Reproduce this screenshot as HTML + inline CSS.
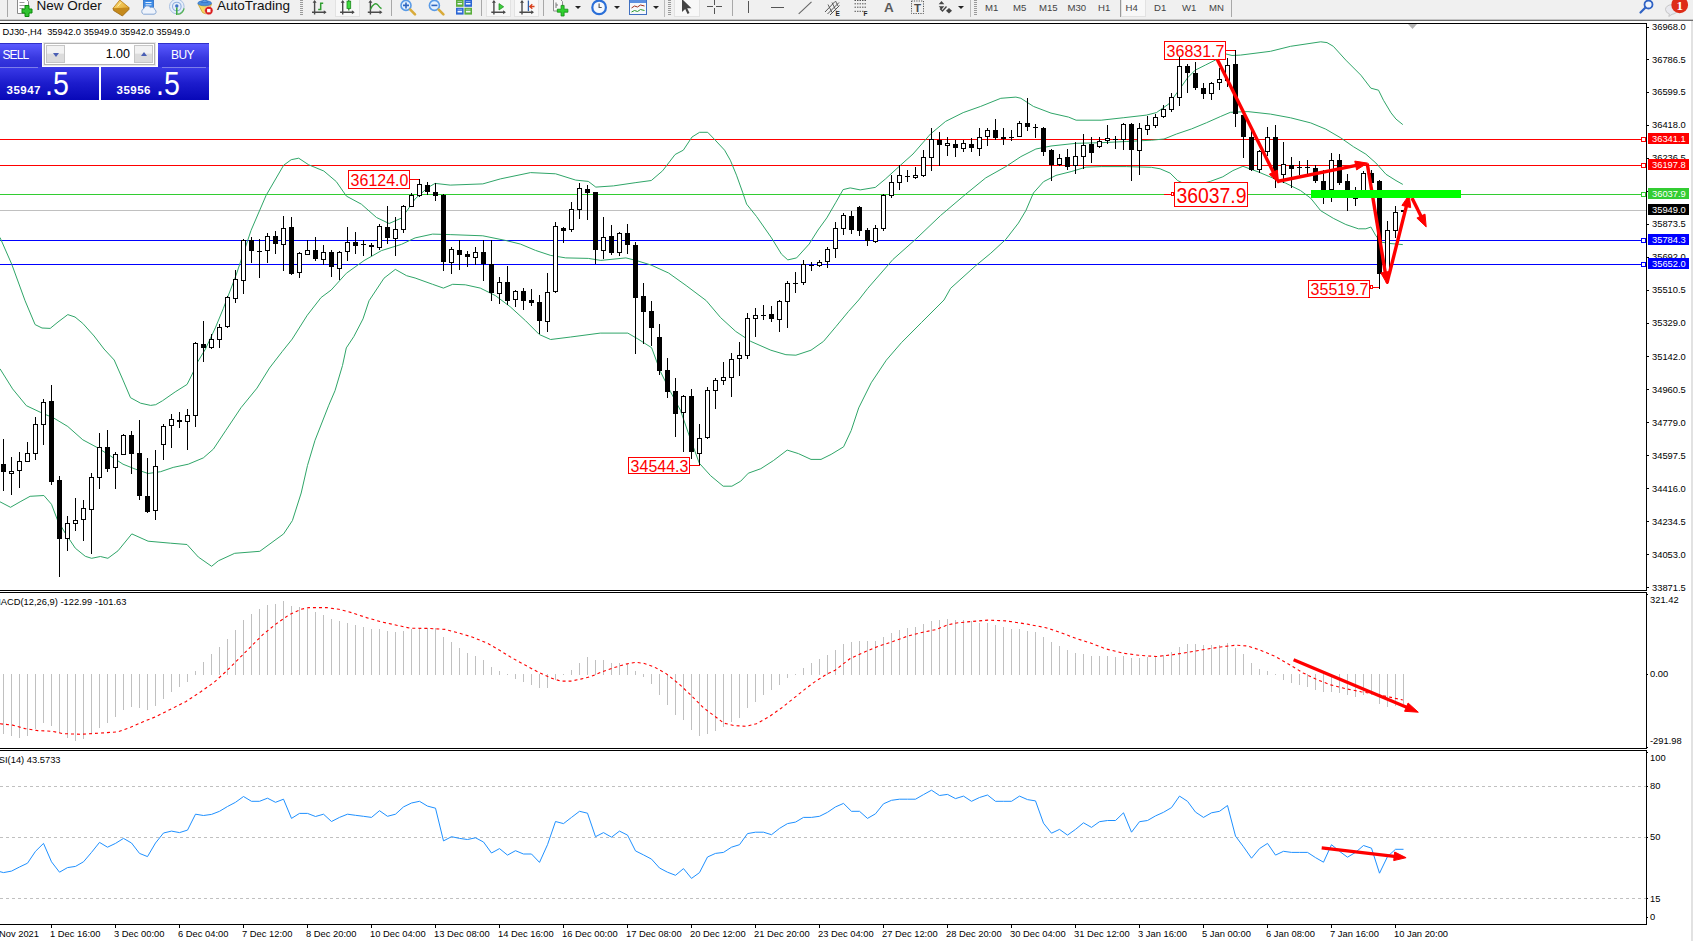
<!DOCTYPE html>
<html><head><meta charset="utf-8"><title>DJ30-,H4</title>
<style>
html,body{margin:0;padding:0;background:#fff}
body{width:1693px;height:941px;overflow:hidden;position:relative;font-family:"Liberation Sans",sans-serif}
#tb{position:absolute;left:0;top:0;width:1693px;height:19px;background:#f0f0f0;border-bottom:1px solid #c4c4c4;overflow:hidden}
#tbl{position:absolute;left:0;top:20px;width:1693px;height:1px;background:#6e6e6e}
#tb .ic{position:absolute;overflow:visible;margin-top:2.5px}
#tb .vs{position:absolute;width:1px;background:#a8a8a8}
#tb .vl{position:absolute}
#tb .grip{position:absolute;top:0;width:3px;height:16px;background:repeating-linear-gradient(#9a9a9a 0 1px,transparent 1px 2px)}
#tb .sel{position:absolute;top:-4px;height:21px;background:#f8f8f8;border:1px solid #e2e2e2;box-sizing:border-box}
#tb .dd{position:absolute;top:6px;width:0;height:0;border:3px solid transparent;border-top:3.500px solid #222}
#tb span{position:absolute;white-space:nowrap}
.t13{font-size:13.5px;color:#111;line-height:20px;margin-top:2px}
.t10{font-size:9.6px;color:#444;line-height:12px;top:1.8px}
#tp{position:absolute;left:0;top:43px;width:209px;height:57px}
#tp .b{position:absolute;z-index:2;background:linear-gradient(#5a5aff,#3838e0 60%,#2c2cd6);box-sizing:border-box;border-top:1px solid #3030c8}
#tp .b span{position:absolute;color:#fff;font-size:12px;line-height:14px;letter-spacing:-.9px}
#tp .b i{position:absolute;height:1px;background:#7d7dea}
#tp .vol{position:absolute;left:44px;top:0;width:111px;height:22px;background:#fff;border:1px solid #b4b4b4;box-sizing:border-box;box-shadow:0 0 0 1px #e8e8e8}
#tp .sb{position:absolute;top:1px;width:19px;height:18px;background:linear-gradient(#f2f2f2 0 45%,#dcdcdc 50% 100%);border:1px solid #c6c6c6;box-sizing:border-box}
#tp .sb em{position:absolute;left:5.500px;width:0;height:0;border:3.500px solid transparent}
#tp .dn{top:7px;border-top:4px solid #4a5fb4 !important}
#tp .up{top:3px;border-bottom:4px solid #4a5fb4 !important}
#tp .v{position:absolute;right:24px;top:3px;font-size:12.500px;color:#000;line-height:15px}
#tp .p{position:absolute;top:24px;height:32.5px;background:linear-gradient(#3a3ae8,#1c1ccc 50%,#0808b8)}
#tp .p span{position:absolute;color:#fff;white-space:nowrap}
#tp .p .s{font-size:11.5px;font-weight:bold;bottom:3.5px;line-height:11px;letter-spacing:.5px}
#tp .p .g{font-size:34px;bottom:4.5px;line-height:24px;transform:scaleX(.84);transform-origin:0 100%}
</style></head><body>
<div id="tb">
 <div class="vs" style="left:7px;top:0;height:17px"></div>
 <!-- new order icon -->
 <svg class="ic" style="left:16px;top:-4.2px" width="18" height="22" viewBox="0 0 18 22">
  <path d="M1.5 0.5h8l3 3v12h-11z" fill="#fff" stroke="#8a8a8a"/>
  <path d="M3.5 4.5h5M3.5 7.5h6M3.5 10.5h4" stroke="#9a9a9a" fill="none"/>
  <path d="M8.5 9.5h3v-3.5h4v3.5h3v4h-3v3.5h-4v-3.5h-3z" transform="translate(-2.5,1.5)" fill="#2fc22f" stroke="#0d8a0d"/>
 </svg>
 <span class="t13" style="left:36.5px;top:-6px">New Order</span>
 <!-- book icon -->
 <svg class="ic" style="left:0;top:-2.5px" width="300" height="20" viewBox="0 0 300 20">
  <defs><linearGradient id="gd" x1="0" y1="0" x2="1" y2="1"><stop offset="0" stop-color="#ffe27a"/><stop offset="1" stop-color="#d9971c"/></linearGradient></defs>
  <path d="M113 8.3 L119.8 0 L129 7.6 L122.6 14.6 Z" fill="url(#gd)" stroke="#b87a14" stroke-width=".8"/>
  <path d="M113 8.3 L113.6 10.5 L122.4 16 L129 9.4 L129 7.6" fill="#c58a1c" stroke="#9a650e" stroke-width=".8"/>
  <path d="M117.5 6.5 L121 2.5" stroke="#fff3b8" stroke-width="1"/>
  <!-- monitor + cloud -->
  <rect x="143.5" y="0" width="10" height="8.5" fill="#3d8be6" stroke="#2a6cc4" stroke-width=".8"/>
  <path d="M145.5 2.5h6M145.5 4.8h6" stroke="#e6f1ff" stroke-width="1"/>
  <path d="M143.5 14.2 a3 3 0 0 1 .3-5.6 a3.6 3.6 0 0 1 6.6-1 a3.2 3.2 0 0 1 4.6 2.2 a2.4 2.4 0 0 1 -1 4.4 Z" fill="#eef3fb" stroke="#7c9fd0" stroke-width=".9"/>
  <!-- signal -->
  <circle cx="176.8" cy="6.5" r="7.3" fill="#e6eef9" stroke="#a9c0e2" stroke-width="1"/>
  <circle cx="176.8" cy="6.5" r="4.3" fill="none" stroke="#8eaede" stroke-width="1.1"/>
  <circle cx="176.8" cy="6" r="1.7" fill="#3f74c8"/>
  <path d="M176.8 7.5V15" stroke="#3aa83a" stroke-width="1.5"/>
  <path d="M177.5 14.3 a7.5 7.5 0 0 0 6.6-6" fill="none" stroke="#56b456" stroke-width="1.3"/>
  <!-- autotrading -->
  <path d="M198 4 q7 -3.5 13.5 0 l-3.2 8.5 q-2.6 2.4 -5.8 0 Z" fill="#f6d75c" stroke="#c9a02c" stroke-width=".8"/>
  <ellipse cx="204.7" cy="3.2" rx="6.8" ry="2.6" fill="#4a8fdc" stroke="#2f6fc0" stroke-width=".7"/>
  <path d="M201.5 2.5 q3.2-5.5 6.4 0 Z" fill="#5b9be4" stroke="#2f6fc0" stroke-width=".7"/>
  <circle cx="208.8" cy="10.6" r="4.2" fill="#d81e1e" stroke="#f4d0d0" stroke-width=".5"/>
  <rect x="207.1" y="8.9" width="3.4" height="3.4" fill="#fff"/>
 </svg>
 <span class="t13" style="left:217px;top:-6px">AutoTrading</span>
 <div class="grip" style="left:300px"></div>
 <!-- bar chart -->
 <div class="sel" style="left:335px;width:25px"></div>
 <div class="sel" style="left:486px;width:25px"></div>
 <div class="sel" style="left:514px;width:25px"></div>
 <svg class="ic" style="left:0;top:-2.5px" width="560" height="20" viewBox="0 0 560 20">
  <path d="M314.6 1.5V14.6M312.0 12.3H325.20000000000005" stroke="#4a4a4a" stroke-width="1.4" fill="none"/><path d="M314.6 0l-2 2.8h4zM326.6 12.3l-2.8-2v4z" fill="#4a4a4a"/>
  <path d="M318.2 9.500H320.700V3.200H323.2" fill="none" stroke="#2f9e2f" stroke-width="1.5"/>
  <path d="M342.7 1.5V14.6M340.09999999999997 12.3H353.3" stroke="#4a4a4a" stroke-width="1.4" fill="none"/><path d="M342.7 0l-2 2.8h4zM354.7 12.3l-2.8-2v4z" fill="#4a4a4a"/>
  <path d="M348.8 0V10.5" stroke="#1e7a1e" stroke-width="1.2"/>
  <rect x="347" y="1.2" width="3.7" height="7.2" fill="#3fdc3f" stroke="#1e8a1e" stroke-width=".8"/>
  <path d="M370.4 1.5V14.6M367.79999999999995 12.3H381.0" stroke="#4a4a4a" stroke-width="1.4" fill="none"/><path d="M370.4 0l-2 2.8h4zM382.4 12.3l-2.8-2v4z" fill="#4a4a4a"/>
  <path d="M370.4 9.6 C373 3.5 376 2.5 378 5.2 S380.5 8 381.5 8.6" fill="none" stroke="#2f9e2f" stroke-width="1.3"/>
  <circle cx="406" cy="5.4" r="5" fill="#e4f0fd" stroke="#5a9be6" stroke-width="1.6"/>
  <path d="M403 5.400h6M406 2.400v6" stroke="#2f66c0" stroke-width="1.6"/>
  <path d="M410.3 9.700l4.7 4.7" stroke="#d9ab3a" stroke-width="2.6" stroke-linecap="round"/>
  <circle cx="434.4" cy="5.4" r="5" fill="#e4f0fd" stroke="#5a9be6" stroke-width="1.6"/>
  <path d="M431.4 5.400h6" stroke="#2f66c0" stroke-width="1.6"/>
  <path d="M438.7 9.700l4.7 4.7" stroke="#d9ab3a" stroke-width="2.6" stroke-linecap="round"/>
  <rect x="456" y="0" width="7.6" height="6.8" fill="#5aae3c"/><rect x="464.4" y="0" width="7.6" height="6.8" fill="#2c66d4"/>
  <rect x="456" y="7.8" width="7.6" height="6.8" fill="#2c66d4"/><rect x="464.4" y="7.8" width="7.6" height="6.8" fill="#5aae3c"/>
  <path d="M457.5 3.800h4.600M465.9 3.800h4.600M457.5 11.600h4.600M465.9 11.600h4.6" stroke="#f4f8ff" stroke-width="1.6"/>
  <path d="M457.5 1.500h4.600M465.9 1.500h4.600M457.5 9.300h4.600M465.9 9.300h4.6" stroke="#dbe8ff" stroke-width=".7" opacity=".7"/>
  <path d="M493.9 1.5V14.6M491.29999999999995 12.3H504.5" stroke="#4a4a4a" stroke-width="1.4" fill="none"/><path d="M493.9 0l-2 2.8h4zM505.9 12.3l-2.8-2v4z" fill="#4a4a4a"/>
  <path d="M499 3.600L503.7 6.800L499 10Z" fill="#3fd03f" stroke="#1e8a1e" stroke-width=".7"/>
  <path d="M522 1.5V14.6M519.4 12.3H532.6" stroke="#4a4a4a" stroke-width="1.4" fill="none"/><path d="M522 0l-2 2.8h4zM534 12.3l-2.8-2v4z" fill="#4a4a4a"/>
  <path d="M528.4 .5V11" stroke="#2f5fa8" stroke-width="1.3"/>
  <path d="M534.5 6.500H530.500M532.3 4.300L529.8 6.500L532.3 8.7" fill="none" stroke="#d8401c" stroke-width="1.3"/>
 </svg>
 <div class="vs" style="left:391px;top:0;height:16px"></div>
 <div class="vs" style="left:481px;top:0;height:16px"></div>
 <div class="vs" style="left:543px;top:0;height:16px"></div>
 <!-- indicators -->
 <svg class="ic" style="left:552px;top:-2.5px" width="20" height="20" viewBox="0 0 20 20"><path d="M1.5 -1h6.500l2.5 2.500v9.500h-9z" fill="#f7f7f7" stroke="#8e8e8e"/><path d="M4 2.500v5.500M4 5h2" stroke="#777" fill="none"/><path d="M5.3 9.200h3.800v-3.800h3v3.800h3.800v3h-3.800v3.800h-3v-3.800h-3.800z" fill="#2fd02f" stroke="#128a12" stroke-width=".8"/></svg>
 <div class="dd" style="left:575px"></div>
 <!-- clock -->
 <svg class="ic" style="left:590px;top:-4px" width="18" height="18" viewBox="0 0 18 18"><circle cx="9.1" cy="8.4" r="6.8" fill="#f4f8fd" stroke="#2a6fd8" stroke-width="2.2"/><path d="M9.1 4.500v4h2.6" fill="none" stroke="#555" stroke-width="1.1"/></svg>
 <div class="dd" style="left:614px"></div>
 <!-- template -->
 <svg class="ic" style="left:629px;top:-4px" width="18" height="17" viewBox="0 0 18 17"><rect x="0.5" y="0.5" width="17" height="15" fill="#f6f8fb" stroke="#3f6fc0"/><rect x="1" y="1" width="16" height="3" fill="#5b8fe0"/><path d="M2.5 9l3-2 3 1 3-2 4 1" fill="none" stroke="#a03020"/><path d="M2.5 13l3-1.5 3 1 3-2 4 1" fill="none" stroke="#2a9a2a"/></svg>
 <div class="dd" style="left:653px"></div>
 <div class="vs" style="left:664px;top:0;height:17px;background:#bbb"></div><div class="grip" style="left:668px"></div>
 <div class="sel" style="left:674px;width:26px"></div>
 <svg class="ic" style="left:681px;top:-5px" width="12" height="18" viewBox="0 0 12 18"><path d="M1 1v13l3.2-3 2.3 5 2-1-2.3-4.8h4.3z" fill="#444"/></svg>
 <svg class="ic" style="left:707px;top:-4px" width="16" height="16" viewBox="0 0 16 16"><path d="M7.5 0v6M7.5 9v6M0 7.5h6M9 7.5h6" stroke="#555"/></svg>
 <div class="vs" style="left:732px;top:0;height:16px"></div>
 <div class="vl" style="left:748px;top:1px;width:1px;height:12px;background:#555"></div>
 <div class="vl" style="left:771px;top:7px;width:13px;height:1px;background:#555"></div>
 <svg class="ic" style="left:780px;top:-2.5px" width="200" height="20" viewBox="0 0 200 20">
  <path d="M18.7 13.800L31.5 1.8" stroke="#666" stroke-width="1.1"/>
  <path d="M45 12L55 1.500M47.5 14L59 2.500M50 15L59.5 5.5" stroke="#555" stroke-width="1" fill="none"/>
  <path d="M48 4.500L52 12.500M52 2.500L56 10.500M55.5 1L58 6" stroke="#555" stroke-width=".9" fill="none"/>
  <text x="55.5" y="15.5" font-size="6.5" font-weight="bold" font-family="Liberation Sans, sans-serif" fill="#222">E</text>
  <path d="M74.5 .5h12.500M74.5 3.800h12.500M74.5 7.200h12.500M74.5 11.300h9" stroke="#555" stroke-dasharray="1.5 1" fill="none"/>
  <text x="83.5" y="15.5" font-size="6.5" font-weight="bold" font-family="Liberation Sans, sans-serif" fill="#222">F</text>
  <rect x="131.5" y="1" width="12" height="12.5" fill="none" stroke="#555" stroke-dasharray="1.2 1.2"/>
  <text x="137.5" y="12" font-size="11.5" font-weight="bold" text-anchor="middle" font-family="Liberation Sans, sans-serif" fill="#4a4a4a">T</text>
  <path d="M161.5 1l2.8 3.200h-5.600zM161.5 9.500l2.8-3.200h-5.600z" fill="#444"/>
  <path d="M160 8.500l2.5 2.5 4-4.5" fill="none" stroke="#444" stroke-width="1.3"/>
  <path d="M169 8l3 2.8-3 2.8-3-2.800z" fill="#444"/>
 </svg>
 <span class="t10" style="left:884px;top:0.5px;font-size:13.5px;color:#5a5a5a;font-weight:bold;line-height:14px">A</span>
 <div class="dd" style="left:958px"></div>
 <div class="vs" style="left:970px;top:0;height:17px;background:#bbb"></div><div class="grip" style="left:974px"></div>
 <div class="sel" style="left:1121px;width:25px"></div>
 <span class="t10" style="left:985px">M1</span><span class="t10" style="left:1013px">M5</span><span class="t10" style="left:1039px">M15</span><span class="t10" style="left:1067.5px">M30</span><span class="t10" style="left:1098px">H1</span><span class="t10" style="left:1125.5px">H4</span><span class="t10" style="left:1154px">D1</span><span class="t10" style="left:1182px">W1</span><span class="t10" style="left:1209px">MN</span>
 <div class="vs" style="left:1231px;top:0;height:17px"></div><div class="vs" style="left:1120px;top:0;height:17px;background:#999"></div>
 <!-- search -->
 <svg class="ic" style="left:1639px;top:-3.8px" width="16" height="16" viewBox="0 0 16 16"><circle cx="9.5" cy="5.5" r="4" fill="#eef4fc" stroke="#2f62c4" stroke-width="1.8"/><path d="M6.5 8.5l-5 5" stroke="#2f62c4" stroke-width="2.2" stroke-linecap="round"/></svg>
 <svg class="ic" style="left:1664px;top:-2.5px" width="28" height="20" viewBox="0 0 28 20"><path d="M1.5 9.500a6 4.8 0 1 1 6.5 4.800l-3.2 2.200l.6-2.600a6 4.8 0 0 1-3.9-4.400z" fill="#e9e9ee" stroke="#bdbdbd" stroke-width=".8"/><circle cx="15.7" cy="4.9" r="8.4" fill="#de2c18"/><text x="15.7" y="9.8" font-size="13" font-weight="bold" text-anchor="middle" fill="#fff" font-family="Liberation Serif, serif">1</text></svg>
</div>
<div id="tbl"></div>
<svg width="1693" height="941" viewBox="0 0 1693 941" style="position:absolute;left:0;top:0" font-family='"Liberation Sans", sans-serif'>
<defs><clipPath id="cm"><rect x="0" y="24" width="1646" height="566"/></clipPath></defs>
<g shape-rendering="crispEdges">
<rect x="0" y="23" width="1647" height="1" fill="#000"/>
<rect x="0" y="590" width="1647" height="1" fill="#000"/>
<rect x="0" y="592" width="1647" height="1" fill="#000"/>
<rect x="0" y="748" width="1647" height="1" fill="#000"/>
<rect x="0" y="750" width="1647" height="1" fill="#000"/>
<rect x="0" y="924" width="1647" height="1" fill="#000"/>
<rect x="1646" y="23" width="1" height="568" fill="#000"/>
<rect x="1646" y="592" width="1" height="157" fill="#000"/>
<rect x="1646" y="750" width="1" height="175" fill="#000"/>
<rect x="1691" y="21" width="2" height="920" fill="#e2e2e2"/>
</g>
<g shape-rendering="crispEdges">
<rect x="0" y="139" width="1646" height="1" fill="#ff0000"/>
<rect x="1641.5" y="137.5" width="4" height="4" fill="#fff" stroke="#ff0000" stroke-width="1"/>
<rect x="0" y="165" width="1646" height="1" fill="#ff0000"/>
<rect x="1641.5" y="163.5" width="4" height="4" fill="#fff" stroke="#ff0000" stroke-width="1"/>
<rect x="0" y="194" width="1646" height="1" fill="#32cd32"/>
<rect x="1641.5" y="192.5" width="4" height="4" fill="#fff" stroke="#32cd32" stroke-width="1"/>
<rect x="0" y="210" width="1646" height="1" fill="#c0c0c0"/>
<rect x="0" y="240" width="1646" height="1" fill="#0000ff"/>
<rect x="1641.5" y="238.5" width="4" height="4" fill="#fff" stroke="#0000ff" stroke-width="1"/>
<rect x="0" y="264" width="1646" height="1" fill="#0000ff"/>
<rect x="1641.5" y="262.5" width="4" height="4" fill="#fff" stroke="#0000ff" stroke-width="1"/>
</g>
<polyline points="0.0,237.5 11.8,264.4 25.1,300.8 35.1,324.6 42.0,328.0 50.2,328.4 58.0,322.0 67.8,314.6 75.0,317.0 82.8,323.4 94.1,336.0 104.0,349.0 114.2,360.0 123.0,380.1 130.5,397.7 140.6,403.2 150.6,405.4 155.7,404.7 162.6,400.7 175.2,391.9 187.1,384.4 192.8,373.0 197.8,361.7 205.4,349.1 215.4,327.7 223.4,308.3 235.9,275.7 251.0,230.5 266.1,195.4 283.6,165.3 291.2,159.7 298.7,158.2 308.7,164.8 323.8,171.0 336.3,181.6 346.4,196.1 361.4,204.2 376.5,217.5 389.1,223.5 401.6,218.0 410.0,206.5 415.1,198.9 427.6,187.7 435.1,183.4 450.2,185.1 482.8,183.9 500.4,178.9 530.5,172.6 555.6,173.8 575.7,180.1 588.3,181.4 595.8,187.1 613.4,185.9 635.9,182.6 651.3,180.5 662.6,170.8 675.1,154.5 683.3,150.2 692.0,137.0 699.6,132.3 707.7,132.3 715.2,140.1 724.6,150.2 730.3,160.2 736.5,175.2 742.8,192.8 746.6,204.1 756.6,216.6 771.5,237.9 781.5,254.2 787.8,259.9 796.6,257.9 809.1,244.1 818.0,230.0 826.8,217.9 835.6,202.8 843.1,189.6 850.2,187.9 860.2,189.9 875.3,187.4 885.3,179.1 900.4,165.3 913.0,154.0 930.5,134.0 945.6,121.4 963.2,112.6 980.7,106.4 1000.8,98.3 1015.9,97.1 1020.9,98.3 1033.4,106.4 1051.0,113.1 1068.6,117.1 1076.1,120.2 1101.2,120.2 1123.8,117.7 1146.4,115.1 1156.4,112.6 1169.0,103.8 1179.0,90.0 1187.7,77.7 1195.2,70.2 1205.3,65.1 1215.3,60.1 1225.3,53.8 1232.0,55.5 1240.4,55.1 1270.5,51.3 1290.6,46.3 1320.7,41.8 1327.0,42.6 1333.3,46.3 1345.8,60.1 1360.9,75.2 1370.9,88.2 1378.5,90.2 1383.5,100.3 1391.0,112.8 1396.0,119.1 1402.8,124.6" fill="none" stroke="#2fa568" stroke-width="1" clip-path="url(#cm)"/>
<polyline points="0.0,368.8 12.6,388.9 26.4,405.7 40.2,412.2 54.0,418.2 67.8,426.5 82.8,439.8 97.9,447.9 110.4,455.9 123.0,464.2 135.5,469.2 148.1,473.5 160.6,471.7 173.2,467.4 188.3,464.2 203.3,457.9 213.4,449.1 225.9,430.3 241.0,407.7 257.0,388.1 269.5,368.0 282.1,351.7 292.2,339.1 307.3,315.2 321.1,297.5 331.2,290.0 346.4,273.2 364.0,260.6 381.5,250.6 401.6,244.3 415.1,237.9 432.6,234.1 450.2,234.6 482.8,235.8 505.4,240.4 520.5,244.1 535.5,250.4 550.6,255.4 565.7,257.9 588.3,258.4 600.8,260.4 625.9,257.9 635.9,260.4 651.0,265.0 668.6,273.0 686.1,285.5 706.2,300.6 720.6,317.6 735.7,331.4 750.8,341.4 770.8,350.2 785.9,354.7 795.9,355.2 811.0,350.2 823.5,341.4 836.1,326.4 848.6,311.3 858.7,300.0 867.8,288.3 892.9,259.5 915.5,239.4 940.6,215.5 965.7,194.2 985.7,177.9 1005.8,166.6 1020.9,156.6 1035.9,149.0 1051.0,146.0 1076.1,143.3 1101.2,142.7 1126.3,141.5 1151.4,140.2 1164.0,139.0 1176.5,134.0 1191.6,128.9 1206.6,122.7 1220.3,116.6 1230.4,112.3 1247.9,111.6 1270.5,114.1 1290.6,117.8 1310.7,122.9 1325.7,129.1 1340.8,137.9 1353.4,146.7 1365.9,154.2 1375.9,163.0 1386.0,174.3 1396.0,180.6 1402.8,184.4" fill="none" stroke="#2fa568" stroke-width="1" clip-path="url(#cm)"/>
<polyline points="0.0,501.8 10.5,507.3 20.1,501.8 30.1,496.3 43.9,495.5 51.5,504.3 57.7,520.6 65.3,533.2 75.3,548.2 85.3,556.3 91.6,558.3 100.4,556.5 107.9,558.3 118.0,550.8 131.8,533.9 148.1,541.2 170.7,543.2 187.0,544.5 198.3,557.0 211.6,566.3 218.4,560.8 234.7,553.3 259.8,551.3 283.6,533.9 292.4,520.6 301.2,493.0 307.5,465.4 315.0,440.3 328.8,405.2 335.0,390.7 342.5,365.5 346.3,347.9 353.8,336.6 363.0,318.9 369.0,300.8 384.0,278.2 395.3,269.4 406.6,275.7 415.1,278.0 432.6,284.3 443.4,288.1 452.7,284.3 465.3,284.8 480.3,288.1 495.4,295.6 510.4,306.9 525.5,320.7 539.3,334.5 550.6,339.5 570.7,337.0 600.2,333.1 627.8,333.1 637.8,338.9 651.6,347.7 660.4,371.5 670.4,391.6 680.5,410.4 690.5,439.3 699.3,463.2 710.6,475.7 723.2,486.2 731.9,486.2 740.7,481.2 748.3,473.2 760.8,468.7 773.4,460.6 787.2,450.1 798.4,453.6 811.0,459.4 821.0,459.4 831.1,454.4 843.6,446.8 851.2,430.5 858.7,407.9 871.2,382.8 886.3,360.2 901.4,342.7 921.4,322.6 944.0,300.0 950.6,288.3 975.7,265.7 990.8,253.2 1005.8,239.4 1018.4,223.1 1025.9,210.5 1033.4,193.0 1043.5,181.7 1056.0,175.4 1071.1,171.6 1086.1,167.1 1101.2,166.6 1126.3,166.6 1151.4,167.3 1160.1,168.8 1170.1,173.1 1177.7,180.6 1185.0,184.0 1200.0,184.0 1210.3,181.4 1222.8,176.8 1232.9,170.6 1242.9,166.3 1258.0,171.8 1273.0,178.1 1285.6,183.1 1300.6,190.6 1310.7,198.2 1320.7,210.7 1333.3,218.3 1345.8,224.5 1358.4,228.8 1365.9,228.8 1370.9,227.0 1375.9,235.8 1381.0,242.1 1390.0,243.5 1402.8,244.6" fill="none" stroke="#2fa568" stroke-width="1" clip-path="url(#cm)"/>
<g shape-rendering="crispEdges" fill="#ff0000">
<rect x="410" y="179" width="10" height="1"/>
<rect x="690" y="465" width="10" height="1"/>
<rect x="1226" y="50" width="10" height="1"/>
<rect x="1164" y="194" width="10" height="1"/>
<rect x="1370" y="287" width="10" height="1"/>
</g>
<rect x="348.5" y="170.5" width="61" height="18" fill="#fff" stroke="#ff0000" stroke-width="1" shape-rendering="crispEdges"/><text transform="translate(379.5,185.9) scale(1,1.05)" font-size="16" fill="#ff0000" text-anchor="middle">36124.0</text>
<rect x="628.5" y="457.5" width="61" height="16" fill="#fff" stroke="#ff0000" stroke-width="1" shape-rendering="crispEdges"/><text transform="translate(659.5,471.9) scale(1,1.05)" font-size="16" fill="#ff0000" text-anchor="middle">34544.3</text>
<rect x="1164.5" y="41.5" width="61" height="18" fill="#fff" stroke="#ff0000" stroke-width="1" shape-rendering="crispEdges"/><text transform="translate(1195.5,56.8) scale(1,1.05)" font-size="16" fill="#ff0000" text-anchor="middle">36831.7</text>
<rect x="1174.5" y="182.5" width="73" height="24" fill="#fff" stroke="#ff0000" stroke-width="1" shape-rendering="crispEdges"/><text transform="translate(1211.5,202.9) scale(1,1.14)" font-size="19.4" fill="#ff0000" text-anchor="middle">36037.9</text>
<rect x="1308.5" y="280.5" width="61" height="17" fill="#fff" stroke="#ff0000" stroke-width="1" shape-rendering="crispEdges"/><text transform="translate(1339.5,295.4) scale(1,1.05)" font-size="16" fill="#ff0000" text-anchor="middle">35519.7</text>
<g shape-rendering="crispEdges" fill="#fff" stroke="#ff0000"><rect x="1171.5" y="192.5" width="2" height="3"/><rect x="1370.5" y="285.5" width="2" height="3"/></g>
<g shape-rendering="crispEdges" clip-path="url(#cm)">
<rect x="3" y="439" width="1" height="52" fill="#000"/>
<rect x="1" y="464" width="5" height="8" fill="#000"/>
<rect x="11" y="457" width="1" height="38" fill="#000"/>
<rect x="9" y="471" width="5" height="3" fill="#000"/>
<rect x="10" y="472" width="3" height="1" fill="#fff"/>
<rect x="19" y="452" width="1" height="36" fill="#000"/>
<rect x="17" y="461" width="5" height="10" fill="#000"/>
<rect x="18" y="462" width="3" height="8" fill="#fff"/>
<rect x="27" y="442" width="1" height="20" fill="#000"/>
<rect x="25" y="453" width="5" height="9" fill="#000"/>
<rect x="26" y="454" width="3" height="7" fill="#fff"/>
<rect x="35" y="417" width="1" height="43" fill="#000"/>
<rect x="33" y="424" width="5" height="30" fill="#000"/>
<rect x="34" y="425" width="3" height="28" fill="#fff"/>
<rect x="43" y="399" width="1" height="46" fill="#000"/>
<rect x="41" y="402" width="5" height="23" fill="#000"/>
<rect x="42" y="403" width="3" height="21" fill="#fff"/>
<rect x="51" y="385" width="1" height="100" fill="#000"/>
<rect x="49" y="401" width="5" height="81" fill="#000"/>
<rect x="59" y="476" width="1" height="101" fill="#000"/>
<rect x="57" y="480" width="5" height="59" fill="#000"/>
<rect x="67" y="516" width="1" height="35" fill="#000"/>
<rect x="65" y="523" width="5" height="16" fill="#000"/>
<rect x="66" y="524" width="3" height="14" fill="#fff"/>
<rect x="75" y="498" width="1" height="33" fill="#000"/>
<rect x="73" y="520" width="5" height="4" fill="#000"/>
<rect x="74" y="521" width="3" height="2" fill="#fff"/>
<rect x="83" y="500" width="1" height="41" fill="#000"/>
<rect x="81" y="508" width="5" height="12" fill="#000"/>
<rect x="82" y="509" width="3" height="10" fill="#fff"/>
<rect x="91" y="473" width="1" height="81" fill="#000"/>
<rect x="89" y="477" width="5" height="33" fill="#000"/>
<rect x="90" y="478" width="3" height="31" fill="#fff"/>
<rect x="99" y="433" width="1" height="56" fill="#000"/>
<rect x="97" y="447" width="5" height="31" fill="#000"/>
<rect x="98" y="448" width="3" height="29" fill="#fff"/>
<rect x="107" y="430" width="1" height="42" fill="#000"/>
<rect x="105" y="447" width="5" height="22" fill="#000"/>
<rect x="115" y="452" width="1" height="37" fill="#000"/>
<rect x="113" y="454" width="5" height="14" fill="#000"/>
<rect x="114" y="455" width="3" height="12" fill="#fff"/>
<rect x="123" y="434" width="1" height="21" fill="#000"/>
<rect x="121" y="435" width="5" height="20" fill="#000"/>
<rect x="122" y="436" width="3" height="18" fill="#fff"/>
<rect x="131" y="431" width="1" height="43" fill="#000"/>
<rect x="129" y="435" width="5" height="19" fill="#000"/>
<rect x="139" y="420" width="1" height="80" fill="#000"/>
<rect x="137" y="453" width="5" height="43" fill="#000"/>
<rect x="147" y="458" width="1" height="55" fill="#000"/>
<rect x="145" y="496" width="5" height="16" fill="#000"/>
<rect x="155" y="450" width="1" height="70" fill="#000"/>
<rect x="153" y="466" width="5" height="45" fill="#000"/>
<rect x="154" y="467" width="3" height="43" fill="#fff"/>
<rect x="163" y="424" width="1" height="36" fill="#000"/>
<rect x="161" y="426" width="5" height="19" fill="#000"/>
<rect x="162" y="427" width="3" height="17" fill="#fff"/>
<rect x="171" y="414" width="1" height="34" fill="#000"/>
<rect x="169" y="419" width="5" height="7" fill="#000"/>
<rect x="170" y="420" width="3" height="5" fill="#fff"/>
<rect x="179" y="412" width="1" height="16" fill="#000"/>
<rect x="177" y="420" width="5" height="2" fill="#000"/>
<rect x="187" y="409" width="1" height="41" fill="#000"/>
<rect x="185" y="415" width="5" height="7" fill="#000"/>
<rect x="186" y="416" width="3" height="5" fill="#fff"/>
<rect x="195" y="342" width="1" height="85" fill="#000"/>
<rect x="193" y="343" width="5" height="73" fill="#000"/>
<rect x="194" y="344" width="3" height="71" fill="#fff"/>
<rect x="203" y="321" width="1" height="41" fill="#000"/>
<rect x="201" y="344" width="5" height="4" fill="#000"/>
<rect x="211" y="334" width="1" height="15" fill="#000"/>
<rect x="209" y="339" width="5" height="9" fill="#000"/>
<rect x="210" y="340" width="3" height="7" fill="#fff"/>
<rect x="219" y="324" width="1" height="24" fill="#000"/>
<rect x="217" y="327" width="5" height="13" fill="#000"/>
<rect x="218" y="328" width="3" height="11" fill="#fff"/>
<rect x="227" y="296" width="1" height="32" fill="#000"/>
<rect x="225" y="297" width="5" height="30" fill="#000"/>
<rect x="226" y="298" width="3" height="28" fill="#fff"/>
<rect x="235" y="270" width="1" height="33" fill="#000"/>
<rect x="233" y="279" width="5" height="20" fill="#000"/>
<rect x="234" y="280" width="3" height="18" fill="#fff"/>
<rect x="243" y="239" width="1" height="55" fill="#000"/>
<rect x="241" y="240" width="5" height="41" fill="#000"/>
<rect x="242" y="241" width="3" height="39" fill="#fff"/>
<rect x="251" y="237" width="1" height="26" fill="#000"/>
<rect x="249" y="240" width="5" height="11" fill="#000"/>
<rect x="259" y="239" width="1" height="39" fill="#000"/>
<rect x="257" y="251" width="5" height="1" fill="#000"/>
<rect x="267" y="233" width="1" height="30" fill="#000"/>
<rect x="265" y="236" width="5" height="15" fill="#000"/>
<rect x="266" y="237" width="3" height="13" fill="#fff"/>
<rect x="275" y="231" width="1" height="23" fill="#000"/>
<rect x="273" y="236" width="5" height="8" fill="#000"/>
<rect x="283" y="216" width="1" height="55" fill="#000"/>
<rect x="281" y="228" width="5" height="17" fill="#000"/>
<rect x="282" y="229" width="3" height="15" fill="#fff"/>
<rect x="291" y="217" width="1" height="58" fill="#000"/>
<rect x="289" y="227" width="5" height="47" fill="#000"/>
<rect x="299" y="252" width="1" height="26" fill="#000"/>
<rect x="297" y="253" width="5" height="20" fill="#000"/>
<rect x="298" y="254" width="3" height="18" fill="#fff"/>
<rect x="307" y="240" width="1" height="15" fill="#000"/>
<rect x="305" y="250" width="5" height="5" fill="#000"/>
<rect x="306" y="251" width="3" height="3" fill="#fff"/>
<rect x="315" y="237" width="1" height="24" fill="#000"/>
<rect x="313" y="250" width="5" height="9" fill="#000"/>
<rect x="323" y="245" width="1" height="20" fill="#000"/>
<rect x="321" y="252" width="5" height="8" fill="#000"/>
<rect x="322" y="253" width="3" height="6" fill="#fff"/>
<rect x="331" y="250" width="1" height="27" fill="#000"/>
<rect x="329" y="252" width="5" height="15" fill="#000"/>
<rect x="339" y="251" width="1" height="29" fill="#000"/>
<rect x="337" y="252" width="5" height="17" fill="#000"/>
<rect x="338" y="253" width="3" height="15" fill="#fff"/>
<rect x="347" y="227" width="1" height="34" fill="#000"/>
<rect x="345" y="242" width="5" height="10" fill="#000"/>
<rect x="346" y="243" width="3" height="8" fill="#fff"/>
<rect x="355" y="232" width="1" height="22" fill="#000"/>
<rect x="353" y="242" width="5" height="4" fill="#000"/>
<rect x="363" y="240" width="1" height="16" fill="#000"/>
<rect x="361" y="244" width="5" height="1" fill="#000"/>
<rect x="371" y="243" width="1" height="13" fill="#000"/>
<rect x="369" y="245" width="5" height="2" fill="#000"/>
<rect x="379" y="224" width="1" height="26" fill="#000"/>
<rect x="377" y="226" width="5" height="22" fill="#000"/>
<rect x="378" y="227" width="3" height="20" fill="#fff"/>
<rect x="387" y="206" width="1" height="38" fill="#000"/>
<rect x="385" y="227" width="5" height="11" fill="#000"/>
<rect x="395" y="217" width="1" height="39" fill="#000"/>
<rect x="393" y="229" width="5" height="10" fill="#000"/>
<rect x="394" y="230" width="3" height="8" fill="#fff"/>
<rect x="403" y="205" width="1" height="28" fill="#000"/>
<rect x="401" y="206" width="5" height="24" fill="#000"/>
<rect x="402" y="207" width="3" height="22" fill="#fff"/>
<rect x="411" y="193" width="1" height="14" fill="#000"/>
<rect x="409" y="195" width="5" height="12" fill="#000"/>
<rect x="410" y="196" width="3" height="10" fill="#fff"/>
<rect x="419" y="179" width="1" height="18" fill="#000"/>
<rect x="417" y="184" width="5" height="12" fill="#000"/>
<rect x="418" y="185" width="3" height="10" fill="#fff"/>
<rect x="427" y="182" width="1" height="13" fill="#000"/>
<rect x="425" y="185" width="5" height="7" fill="#000"/>
<rect x="435" y="183" width="1" height="18" fill="#000"/>
<rect x="433" y="192" width="5" height="4" fill="#000"/>
<rect x="443" y="194" width="1" height="77" fill="#000"/>
<rect x="441" y="195" width="5" height="67" fill="#000"/>
<rect x="451" y="247" width="1" height="27" fill="#000"/>
<rect x="449" y="249" width="5" height="14" fill="#000"/>
<rect x="450" y="250" width="3" height="12" fill="#fff"/>
<rect x="459" y="240" width="1" height="30" fill="#000"/>
<rect x="457" y="250" width="5" height="5" fill="#000"/>
<rect x="467" y="251" width="1" height="16" fill="#000"/>
<rect x="465" y="254" width="5" height="3" fill="#000"/>
<rect x="475" y="247" width="1" height="18" fill="#000"/>
<rect x="473" y="252" width="5" height="6" fill="#000"/>
<rect x="474" y="253" width="3" height="4" fill="#fff"/>
<rect x="483" y="240" width="1" height="41" fill="#000"/>
<rect x="481" y="252" width="5" height="12" fill="#000"/>
<rect x="491" y="240" width="1" height="61" fill="#000"/>
<rect x="489" y="264" width="5" height="29" fill="#000"/>
<rect x="499" y="277" width="1" height="27" fill="#000"/>
<rect x="497" y="282" width="5" height="12" fill="#000"/>
<rect x="498" y="283" width="3" height="10" fill="#fff"/>
<rect x="507" y="266" width="1" height="39" fill="#000"/>
<rect x="505" y="282" width="5" height="19" fill="#000"/>
<rect x="515" y="290" width="1" height="17" fill="#000"/>
<rect x="513" y="291" width="5" height="9" fill="#000"/>
<rect x="514" y="292" width="3" height="7" fill="#fff"/>
<rect x="523" y="288" width="1" height="22" fill="#000"/>
<rect x="521" y="291" width="5" height="10" fill="#000"/>
<rect x="531" y="289" width="1" height="17" fill="#000"/>
<rect x="529" y="300" width="5" height="3" fill="#000"/>
<rect x="539" y="295" width="1" height="39" fill="#000"/>
<rect x="537" y="302" width="5" height="19" fill="#000"/>
<rect x="547" y="273" width="1" height="59" fill="#000"/>
<rect x="545" y="292" width="5" height="30" fill="#000"/>
<rect x="546" y="293" width="3" height="28" fill="#fff"/>
<rect x="555" y="222" width="1" height="71" fill="#000"/>
<rect x="553" y="226" width="5" height="66" fill="#000"/>
<rect x="554" y="227" width="3" height="64" fill="#fff"/>
<rect x="563" y="227" width="1" height="16" fill="#000"/>
<rect x="561" y="228" width="5" height="3" fill="#000"/>
<rect x="571" y="202" width="1" height="30" fill="#000"/>
<rect x="569" y="209" width="5" height="21" fill="#000"/>
<rect x="570" y="210" width="3" height="19" fill="#fff"/>
<rect x="579" y="183" width="1" height="36" fill="#000"/>
<rect x="577" y="188" width="5" height="22" fill="#000"/>
<rect x="578" y="189" width="3" height="20" fill="#fff"/>
<rect x="587" y="185" width="1" height="35" fill="#000"/>
<rect x="585" y="189" width="5" height="4" fill="#000"/>
<rect x="595" y="192" width="1" height="72" fill="#000"/>
<rect x="593" y="192" width="5" height="58" fill="#000"/>
<rect x="603" y="217" width="1" height="42" fill="#000"/>
<rect x="601" y="237" width="5" height="14" fill="#000"/>
<rect x="602" y="238" width="3" height="12" fill="#fff"/>
<rect x="611" y="225" width="1" height="30" fill="#000"/>
<rect x="609" y="236" width="5" height="17" fill="#000"/>
<rect x="619" y="232" width="1" height="24" fill="#000"/>
<rect x="617" y="233" width="5" height="20" fill="#000"/>
<rect x="618" y="234" width="3" height="18" fill="#fff"/>
<rect x="627" y="224" width="1" height="30" fill="#000"/>
<rect x="625" y="233" width="5" height="12" fill="#000"/>
<rect x="635" y="242" width="1" height="112" fill="#000"/>
<rect x="633" y="245" width="5" height="53" fill="#000"/>
<rect x="643" y="283" width="1" height="61" fill="#000"/>
<rect x="641" y="296" width="5" height="16" fill="#000"/>
<rect x="651" y="301" width="1" height="45" fill="#000"/>
<rect x="649" y="311" width="5" height="17" fill="#000"/>
<rect x="659" y="324" width="1" height="51" fill="#000"/>
<rect x="657" y="337" width="5" height="34" fill="#000"/>
<rect x="667" y="358" width="1" height="40" fill="#000"/>
<rect x="665" y="370" width="5" height="22" fill="#000"/>
<rect x="675" y="378" width="1" height="59" fill="#000"/>
<rect x="673" y="391" width="5" height="23" fill="#000"/>
<rect x="683" y="395" width="1" height="57" fill="#000"/>
<rect x="681" y="396" width="5" height="17" fill="#000"/>
<rect x="682" y="397" width="3" height="15" fill="#fff"/>
<rect x="691" y="389" width="1" height="70" fill="#000"/>
<rect x="689" y="396" width="5" height="56" fill="#000"/>
<rect x="699" y="424" width="1" height="41" fill="#000"/>
<rect x="697" y="438" width="5" height="16" fill="#000"/>
<rect x="698" y="439" width="3" height="14" fill="#fff"/>
<rect x="707" y="387" width="1" height="52" fill="#000"/>
<rect x="705" y="390" width="5" height="48" fill="#000"/>
<rect x="706" y="391" width="3" height="46" fill="#fff"/>
<rect x="715" y="378" width="1" height="31" fill="#000"/>
<rect x="713" y="380" width="5" height="11" fill="#000"/>
<rect x="714" y="381" width="3" height="9" fill="#fff"/>
<rect x="723" y="362" width="1" height="23" fill="#000"/>
<rect x="721" y="377" width="5" height="4" fill="#000"/>
<rect x="722" y="378" width="3" height="2" fill="#fff"/>
<rect x="731" y="353" width="1" height="44" fill="#000"/>
<rect x="729" y="359" width="5" height="19" fill="#000"/>
<rect x="730" y="360" width="3" height="17" fill="#fff"/>
<rect x="739" y="342" width="1" height="34" fill="#000"/>
<rect x="737" y="355" width="5" height="4" fill="#000"/>
<rect x="738" y="356" width="3" height="2" fill="#fff"/>
<rect x="747" y="313" width="1" height="46" fill="#000"/>
<rect x="745" y="318" width="5" height="38" fill="#000"/>
<rect x="746" y="319" width="3" height="36" fill="#fff"/>
<rect x="755" y="308" width="1" height="29" fill="#000"/>
<rect x="753" y="315" width="5" height="4" fill="#000"/>
<rect x="754" y="316" width="3" height="2" fill="#fff"/>
<rect x="763" y="305" width="1" height="15" fill="#000"/>
<rect x="761" y="315" width="5" height="1" fill="#000"/>
<rect x="771" y="306" width="1" height="16" fill="#000"/>
<rect x="769" y="314" width="5" height="5" fill="#000"/>
<rect x="779" y="300" width="1" height="32" fill="#000"/>
<rect x="777" y="301" width="5" height="19" fill="#000"/>
<rect x="778" y="302" width="3" height="17" fill="#fff"/>
<rect x="787" y="281" width="1" height="47" fill="#000"/>
<rect x="785" y="283" width="5" height="19" fill="#000"/>
<rect x="786" y="284" width="3" height="17" fill="#fff"/>
<rect x="795" y="272" width="1" height="21" fill="#000"/>
<rect x="793" y="283" width="5" height="1" fill="#000"/>
<rect x="803" y="260" width="1" height="25" fill="#000"/>
<rect x="801" y="264" width="5" height="19" fill="#000"/>
<rect x="802" y="265" width="3" height="17" fill="#fff"/>
<rect x="811" y="262" width="1" height="9" fill="#000"/>
<rect x="809" y="265" width="5" height="1" fill="#000"/>
<rect x="819" y="260" width="1" height="7" fill="#000"/>
<rect x="817" y="262" width="5" height="4" fill="#000"/>
<rect x="818" y="263" width="3" height="2" fill="#fff"/>
<rect x="827" y="247" width="1" height="21" fill="#000"/>
<rect x="825" y="249" width="5" height="13" fill="#000"/>
<rect x="826" y="250" width="3" height="11" fill="#fff"/>
<rect x="835" y="222" width="1" height="36" fill="#000"/>
<rect x="833" y="228" width="5" height="21" fill="#000"/>
<rect x="834" y="229" width="3" height="19" fill="#fff"/>
<rect x="843" y="213" width="1" height="22" fill="#000"/>
<rect x="841" y="215" width="5" height="14" fill="#000"/>
<rect x="842" y="216" width="3" height="12" fill="#fff"/>
<rect x="851" y="211" width="1" height="23" fill="#000"/>
<rect x="849" y="216" width="5" height="14" fill="#000"/>
<rect x="859" y="206" width="1" height="30" fill="#000"/>
<rect x="857" y="207" width="5" height="24" fill="#000"/>
<rect x="867" y="228" width="1" height="18" fill="#000"/>
<rect x="865" y="230" width="5" height="11" fill="#000"/>
<rect x="875" y="225" width="1" height="18" fill="#000"/>
<rect x="873" y="228" width="5" height="14" fill="#000"/>
<rect x="874" y="229" width="3" height="12" fill="#fff"/>
<rect x="883" y="194" width="1" height="37" fill="#000"/>
<rect x="881" y="195" width="5" height="34" fill="#000"/>
<rect x="882" y="196" width="3" height="32" fill="#fff"/>
<rect x="891" y="175" width="1" height="23" fill="#000"/>
<rect x="889" y="182" width="5" height="14" fill="#000"/>
<rect x="890" y="183" width="3" height="12" fill="#fff"/>
<rect x="899" y="165" width="1" height="25" fill="#000"/>
<rect x="897" y="175" width="5" height="8" fill="#000"/>
<rect x="898" y="176" width="3" height="6" fill="#fff"/>
<rect x="907" y="170" width="1" height="12" fill="#000"/>
<rect x="905" y="176" width="5" height="1" fill="#000"/>
<rect x="915" y="167" width="1" height="12" fill="#000"/>
<rect x="913" y="175" width="5" height="3" fill="#000"/>
<rect x="914" y="176" width="3" height="1" fill="#fff"/>
<rect x="923" y="150" width="1" height="27" fill="#000"/>
<rect x="921" y="157" width="5" height="19" fill="#000"/>
<rect x="922" y="158" width="3" height="17" fill="#fff"/>
<rect x="931" y="128" width="1" height="43" fill="#000"/>
<rect x="929" y="139" width="5" height="19" fill="#000"/>
<rect x="930" y="140" width="3" height="17" fill="#fff"/>
<rect x="939" y="132" width="1" height="34" fill="#000"/>
<rect x="937" y="140" width="5" height="5" fill="#000"/>
<rect x="947" y="137" width="1" height="19" fill="#000"/>
<rect x="945" y="143" width="5" height="3" fill="#000"/>
<rect x="946" y="144" width="3" height="1" fill="#fff"/>
<rect x="955" y="140" width="1" height="17" fill="#000"/>
<rect x="953" y="144" width="5" height="4" fill="#000"/>
<rect x="963" y="140" width="1" height="12" fill="#000"/>
<rect x="961" y="143" width="5" height="6" fill="#000"/>
<rect x="962" y="144" width="3" height="4" fill="#fff"/>
<rect x="971" y="138" width="1" height="14" fill="#000"/>
<rect x="969" y="144" width="5" height="4" fill="#000"/>
<rect x="979" y="128" width="1" height="28" fill="#000"/>
<rect x="977" y="137" width="5" height="12" fill="#000"/>
<rect x="978" y="138" width="3" height="10" fill="#fff"/>
<rect x="987" y="128" width="1" height="18" fill="#000"/>
<rect x="985" y="130" width="5" height="7" fill="#000"/>
<rect x="986" y="131" width="3" height="5" fill="#fff"/>
<rect x="995" y="119" width="1" height="21" fill="#000"/>
<rect x="993" y="130" width="5" height="8" fill="#000"/>
<rect x="1003" y="128" width="1" height="17" fill="#000"/>
<rect x="1001" y="137" width="5" height="2" fill="#000"/>
<rect x="1011" y="130" width="1" height="11" fill="#000"/>
<rect x="1009" y="137" width="5" height="1" fill="#000"/>
<rect x="1019" y="121" width="1" height="16" fill="#000"/>
<rect x="1017" y="123" width="5" height="14" fill="#000"/>
<rect x="1018" y="124" width="3" height="12" fill="#fff"/>
<rect x="1027" y="98" width="1" height="33" fill="#000"/>
<rect x="1025" y="123" width="5" height="4" fill="#000"/>
<rect x="1035" y="124" width="1" height="14" fill="#000"/>
<rect x="1033" y="127" width="5" height="1" fill="#000"/>
<rect x="1043" y="127" width="1" height="29" fill="#000"/>
<rect x="1041" y="128" width="5" height="24" fill="#000"/>
<rect x="1051" y="149" width="1" height="32" fill="#000"/>
<rect x="1049" y="150" width="5" height="15" fill="#000"/>
<rect x="1059" y="154" width="1" height="12" fill="#000"/>
<rect x="1057" y="158" width="5" height="7" fill="#000"/>
<rect x="1058" y="159" width="3" height="5" fill="#fff"/>
<rect x="1067" y="149" width="1" height="21" fill="#000"/>
<rect x="1065" y="157" width="5" height="10" fill="#000"/>
<rect x="1075" y="142" width="1" height="32" fill="#000"/>
<rect x="1073" y="156" width="5" height="10" fill="#000"/>
<rect x="1074" y="157" width="3" height="8" fill="#fff"/>
<rect x="1083" y="134" width="1" height="35" fill="#000"/>
<rect x="1081" y="145" width="5" height="12" fill="#000"/>
<rect x="1082" y="146" width="3" height="10" fill="#fff"/>
<rect x="1091" y="137" width="1" height="26" fill="#000"/>
<rect x="1089" y="144" width="5" height="9" fill="#000"/>
<rect x="1099" y="137" width="1" height="11" fill="#000"/>
<rect x="1097" y="141" width="5" height="6" fill="#000"/>
<rect x="1098" y="142" width="3" height="4" fill="#fff"/>
<rect x="1107" y="125" width="1" height="19" fill="#000"/>
<rect x="1105" y="138" width="5" height="3" fill="#000"/>
<rect x="1106" y="139" width="3" height="1" fill="#fff"/>
<rect x="1115" y="136" width="1" height="13" fill="#000"/>
<rect x="1113" y="139" width="5" height="1" fill="#000"/>
<rect x="1123" y="123" width="1" height="27" fill="#000"/>
<rect x="1121" y="124" width="5" height="16" fill="#000"/>
<rect x="1122" y="125" width="3" height="14" fill="#fff"/>
<rect x="1131" y="123" width="1" height="58" fill="#000"/>
<rect x="1129" y="124" width="5" height="26" fill="#000"/>
<rect x="1139" y="123" width="1" height="52" fill="#000"/>
<rect x="1137" y="128" width="5" height="23" fill="#000"/>
<rect x="1138" y="129" width="3" height="21" fill="#fff"/>
<rect x="1147" y="116" width="1" height="19" fill="#000"/>
<rect x="1145" y="125" width="5" height="5" fill="#000"/>
<rect x="1146" y="126" width="3" height="3" fill="#fff"/>
<rect x="1155" y="114" width="1" height="14" fill="#000"/>
<rect x="1153" y="117" width="5" height="9" fill="#000"/>
<rect x="1154" y="118" width="3" height="7" fill="#fff"/>
<rect x="1163" y="105" width="1" height="13" fill="#000"/>
<rect x="1161" y="109" width="5" height="8" fill="#000"/>
<rect x="1162" y="110" width="3" height="6" fill="#fff"/>
<rect x="1171" y="93" width="1" height="19" fill="#000"/>
<rect x="1169" y="97" width="5" height="13" fill="#000"/>
<rect x="1170" y="98" width="3" height="11" fill="#fff"/>
<rect x="1179" y="57" width="1" height="49" fill="#000"/>
<rect x="1177" y="66" width="5" height="32" fill="#000"/>
<rect x="1178" y="67" width="3" height="30" fill="#fff"/>
<rect x="1187" y="64" width="1" height="29" fill="#000"/>
<rect x="1185" y="66" width="5" height="7" fill="#000"/>
<rect x="1195" y="62" width="1" height="28" fill="#000"/>
<rect x="1193" y="73" width="5" height="15" fill="#000"/>
<rect x="1203" y="83" width="1" height="16" fill="#000"/>
<rect x="1201" y="88" width="5" height="6" fill="#000"/>
<rect x="1211" y="82" width="1" height="18" fill="#000"/>
<rect x="1209" y="83" width="5" height="11" fill="#000"/>
<rect x="1210" y="84" width="3" height="9" fill="#fff"/>
<rect x="1219" y="68" width="1" height="22" fill="#000"/>
<rect x="1217" y="79" width="5" height="4" fill="#000"/>
<rect x="1218" y="80" width="3" height="2" fill="#fff"/>
<rect x="1227" y="58" width="1" height="29" fill="#000"/>
<rect x="1225" y="65" width="5" height="16" fill="#000"/>
<rect x="1226" y="66" width="3" height="14" fill="#fff"/>
<rect x="1235" y="50" width="1" height="77" fill="#000"/>
<rect x="1233" y="64" width="5" height="50" fill="#000"/>
<rect x="1243" y="113" width="1" height="45" fill="#000"/>
<rect x="1241" y="115" width="5" height="22" fill="#000"/>
<rect x="1251" y="131" width="1" height="40" fill="#000"/>
<rect x="1249" y="137" width="5" height="33" fill="#000"/>
<rect x="1259" y="150" width="1" height="23" fill="#000"/>
<rect x="1257" y="151" width="5" height="19" fill="#000"/>
<rect x="1258" y="152" width="3" height="17" fill="#fff"/>
<rect x="1267" y="127" width="1" height="29" fill="#000"/>
<rect x="1265" y="137" width="5" height="15" fill="#000"/>
<rect x="1266" y="138" width="3" height="13" fill="#fff"/>
<rect x="1275" y="125" width="1" height="63" fill="#000"/>
<rect x="1273" y="137" width="5" height="42" fill="#000"/>
<rect x="1283" y="142" width="1" height="41" fill="#000"/>
<rect x="1281" y="164" width="5" height="11" fill="#000"/>
<rect x="1282" y="165" width="3" height="9" fill="#fff"/>
<rect x="1291" y="157" width="1" height="31" fill="#000"/>
<rect x="1289" y="165" width="5" height="4" fill="#000"/>
<rect x="1299" y="161" width="1" height="14" fill="#000"/>
<rect x="1297" y="167" width="5" height="1" fill="#000"/>
<rect x="1307" y="160" width="1" height="14" fill="#000"/>
<rect x="1305" y="167" width="5" height="1" fill="#000"/>
<rect x="1315" y="165" width="1" height="18" fill="#000"/>
<rect x="1313" y="168" width="5" height="13" fill="#000"/>
<rect x="1323" y="170" width="1" height="34" fill="#000"/>
<rect x="1321" y="181" width="5" height="10" fill="#000"/>
<rect x="1331" y="153" width="1" height="49" fill="#000"/>
<rect x="1329" y="160" width="5" height="30" fill="#000"/>
<rect x="1330" y="161" width="3" height="28" fill="#fff"/>
<rect x="1339" y="154" width="1" height="31" fill="#000"/>
<rect x="1337" y="160" width="5" height="23" fill="#000"/>
<rect x="1347" y="174" width="1" height="37" fill="#000"/>
<rect x="1345" y="181" width="5" height="17" fill="#000"/>
<rect x="1355" y="187" width="1" height="19" fill="#000"/>
<rect x="1353" y="198" width="5" height="1" fill="#000"/>
<rect x="1363" y="171" width="1" height="20" fill="#000"/>
<rect x="1361" y="173" width="5" height="18" fill="#000"/>
<rect x="1362" y="174" width="3" height="16" fill="#fff"/>
<rect x="1371" y="170" width="1" height="20" fill="#000"/>
<rect x="1369" y="173" width="5" height="10" fill="#000"/>
<rect x="1379" y="180" width="1" height="109" fill="#000"/>
<rect x="1377" y="181" width="5" height="93" fill="#000"/>
<rect x="1387" y="221" width="1" height="63" fill="#000"/>
<rect x="1385" y="230" width="5" height="44" fill="#000"/>
<rect x="1386" y="231" width="3" height="42" fill="#fff"/>
<rect x="1395" y="206" width="1" height="32" fill="#000"/>
<rect x="1393" y="212" width="5" height="19" fill="#000"/>
<rect x="1394" y="213" width="3" height="17" fill="#fff"/>
<rect x="1403" y="210" width="1" height="3" fill="#000"/>
<rect x="1401" y="210" width="5" height="2" fill="#000"/>
<rect x="1379" y="275" width="1" height="13" fill="#000"/>
</g>
<line x1="1217.3" y1="59.6" x2="1275.3" y2="176.1" stroke="#ff0000" stroke-width="3.4" stroke-linecap="butt"/><polygon points="1278.6,182.9 1269.3,174.2 1277.3,170.1" fill="#ff0000" stroke="#ff0000" stroke-width="1" stroke-linejoin="round"/>
<line x1="1277.0" y1="181.5" x2="1360.0" y2="164.6" stroke="#ff0000" stroke-width="3.4" stroke-linecap="butt"/><polygon points="1367.5,163.1 1356.6,169.9 1354.8,161.1" fill="#ff0000" stroke="#ff0000" stroke-width="1" stroke-linejoin="round"/>
<line x1="1367.2" y1="163.5" x2="1385.9" y2="276.5" stroke="#ff0000" stroke-width="3.4" stroke-linecap="butt"/><polygon points="1387.2,284.0 1380.8,272.9 1389.6,271.4" fill="#ff0000" stroke="#ff0000" stroke-width="1" stroke-linejoin="round"/>
<line x1="1387.0" y1="283.0" x2="1407.4" y2="202.2" stroke="#ff0000" stroke-width="3.4" stroke-linecap="butt"/><polygon points="1409.2,194.8 1410.7,207.6 1401.9,205.4" fill="#ff0000" stroke="#ff0000" stroke-width="1" stroke-linejoin="round"/>
<line x1="1412.0" y1="198.0" x2="1422.9" y2="220.1" stroke="#ff0000" stroke-width="3.4" stroke-linecap="butt"/><polygon points="1426.2,226.9 1416.9,218.1 1425.0,214.1" fill="#ff0000" stroke="#ff0000" stroke-width="1" stroke-linejoin="round"/>
<rect x="1311" y="190" width="150" height="8" fill="#00ff00" shape-rendering="crispEdges"/>
<polygon points="1408,24 1417,24 1412.5,29" fill="#b4b4b4"/>
<g shape-rendering="crispEdges" fill="#c0c0c0">
<rect x="3" y="674" width="1" height="60"/>
<rect x="11" y="674" width="1" height="62"/>
<rect x="19" y="674" width="1" height="64"/>
<rect x="27" y="674" width="1" height="62"/>
<rect x="35" y="674" width="1" height="55"/>
<rect x="43" y="674" width="1" height="49"/>
<rect x="51" y="674" width="1" height="52"/>
<rect x="59" y="674" width="1" height="59"/>
<rect x="67" y="674" width="1" height="64"/>
<rect x="75" y="674" width="1" height="67"/>
<rect x="83" y="674" width="1" height="65"/>
<rect x="91" y="674" width="1" height="59"/>
<rect x="99" y="674" width="1" height="54"/>
<rect x="107" y="674" width="1" height="49"/>
<rect x="115" y="674" width="1" height="43"/>
<rect x="123" y="674" width="1" height="36"/>
<rect x="131" y="674" width="1" height="33"/>
<rect x="139" y="674" width="1" height="34"/>
<rect x="147" y="674" width="1" height="36"/>
<rect x="155" y="674" width="1" height="32"/>
<rect x="163" y="674" width="1" height="25"/>
<rect x="171" y="674" width="1" height="18"/>
<rect x="179" y="674" width="1" height="13"/>
<rect x="187" y="674" width="1" height="8"/>
<rect x="195" y="671" width="1" height="4"/>
<rect x="203" y="662" width="1" height="13"/>
<rect x="211" y="654" width="1" height="21"/>
<rect x="219" y="647" width="1" height="28"/>
<rect x="227" y="639" width="1" height="36"/>
<rect x="235" y="630" width="1" height="45"/>
<rect x="243" y="620" width="1" height="55"/>
<rect x="251" y="614" width="1" height="61"/>
<rect x="259" y="609" width="1" height="66"/>
<rect x="267" y="605" width="1" height="70"/>
<rect x="275" y="604" width="1" height="71"/>
<rect x="283" y="601" width="1" height="74"/>
<rect x="291" y="606" width="1" height="69"/>
<rect x="299" y="607" width="1" height="68"/>
<rect x="307" y="609" width="1" height="66"/>
<rect x="315" y="612" width="1" height="63"/>
<rect x="323" y="615" width="1" height="60"/>
<rect x="331" y="619" width="1" height="56"/>
<rect x="339" y="621" width="1" height="54"/>
<rect x="347" y="623" width="1" height="52"/>
<rect x="355" y="625" width="1" height="50"/>
<rect x="363" y="627" width="1" height="48"/>
<rect x="371" y="629" width="1" height="46"/>
<rect x="379" y="629" width="1" height="46"/>
<rect x="387" y="631" width="1" height="44"/>
<rect x="395" y="632" width="1" height="43"/>
<rect x="403" y="631" width="1" height="44"/>
<rect x="411" y="629" width="1" height="46"/>
<rect x="419" y="628" width="1" height="47"/>
<rect x="427" y="628" width="1" height="47"/>
<rect x="435" y="628" width="1" height="47"/>
<rect x="443" y="637" width="1" height="38"/>
<rect x="451" y="642" width="1" height="33"/>
<rect x="459" y="648" width="1" height="27"/>
<rect x="467" y="653" width="1" height="22"/>
<rect x="475" y="656" width="1" height="19"/>
<rect x="483" y="660" width="1" height="15"/>
<rect x="491" y="667" width="1" height="8"/>
<rect x="499" y="671" width="1" height="4"/>
<rect x="507" y="674" width="1" height="1"/>
<rect x="515" y="674" width="1" height="5"/>
<rect x="523" y="674" width="1" height="8"/>
<rect x="531" y="674" width="1" height="11"/>
<rect x="539" y="674" width="1" height="14"/>
<rect x="547" y="674" width="1" height="14"/>
<rect x="555" y="674" width="1" height="6"/>
<rect x="563" y="674" width="1" height="1"/>
<rect x="571" y="670" width="1" height="5"/>
<rect x="579" y="663" width="1" height="12"/>
<rect x="587" y="657" width="1" height="18"/>
<rect x="595" y="660" width="1" height="15"/>
<rect x="603" y="660" width="1" height="15"/>
<rect x="611" y="663" width="1" height="12"/>
<rect x="619" y="663" width="1" height="12"/>
<rect x="627" y="664" width="1" height="11"/>
<rect x="635" y="671" width="1" height="4"/>
<rect x="643" y="674" width="1" height="3"/>
<rect x="651" y="674" width="1" height="10"/>
<rect x="659" y="674" width="1" height="21"/>
<rect x="667" y="674" width="1" height="31"/>
<rect x="675" y="674" width="1" height="41"/>
<rect x="683" y="674" width="1" height="46"/>
<rect x="691" y="674" width="1" height="56"/>
<rect x="699" y="674" width="1" height="62"/>
<rect x="707" y="674" width="1" height="60"/>
<rect x="715" y="674" width="1" height="57"/>
<rect x="723" y="674" width="1" height="53"/>
<rect x="731" y="674" width="1" height="48"/>
<rect x="739" y="674" width="1" height="44"/>
<rect x="747" y="674" width="1" height="34"/>
<rect x="755" y="674" width="1" height="28"/>
<rect x="763" y="674" width="1" height="21"/>
<rect x="771" y="674" width="1" height="16"/>
<rect x="779" y="674" width="1" height="11"/>
<rect x="787" y="674" width="1" height="4"/>
<rect x="795" y="674" width="1" height="1"/>
<rect x="803" y="668" width="1" height="7"/>
<rect x="811" y="663" width="1" height="12"/>
<rect x="819" y="659" width="1" height="16"/>
<rect x="827" y="655" width="1" height="20"/>
<rect x="835" y="650" width="1" height="25"/>
<rect x="843" y="644" width="1" height="31"/>
<rect x="851" y="642" width="1" height="33"/>
<rect x="859" y="641" width="1" height="34"/>
<rect x="867" y="641" width="1" height="34"/>
<rect x="875" y="641" width="1" height="34"/>
<rect x="883" y="637" width="1" height="38"/>
<rect x="891" y="633" width="1" height="42"/>
<rect x="899" y="630" width="1" height="45"/>
<rect x="907" y="628" width="1" height="47"/>
<rect x="915" y="627" width="1" height="48"/>
<rect x="923" y="624" width="1" height="51"/>
<rect x="931" y="621" width="1" height="54"/>
<rect x="939" y="620" width="1" height="55"/>
<rect x="947" y="619" width="1" height="56"/>
<rect x="955" y="620" width="1" height="55"/>
<rect x="963" y="620" width="1" height="55"/>
<rect x="971" y="621" width="1" height="54"/>
<rect x="979" y="623" width="1" height="52"/>
<rect x="987" y="623" width="1" height="52"/>
<rect x="995" y="625" width="1" height="50"/>
<rect x="1003" y="627" width="1" height="48"/>
<rect x="1011" y="629" width="1" height="46"/>
<rect x="1019" y="629" width="1" height="46"/>
<rect x="1027" y="631" width="1" height="44"/>
<rect x="1035" y="632" width="1" height="43"/>
<rect x="1043" y="637" width="1" height="38"/>
<rect x="1051" y="642" width="1" height="33"/>
<rect x="1059" y="646" width="1" height="29"/>
<rect x="1067" y="650" width="1" height="25"/>
<rect x="1075" y="653" width="1" height="22"/>
<rect x="1083" y="654" width="1" height="21"/>
<rect x="1091" y="656" width="1" height="19"/>
<rect x="1099" y="656" width="1" height="19"/>
<rect x="1107" y="656" width="1" height="19"/>
<rect x="1115" y="657" width="1" height="18"/>
<rect x="1123" y="656" width="1" height="19"/>
<rect x="1131" y="658" width="1" height="17"/>
<rect x="1139" y="658" width="1" height="17"/>
<rect x="1147" y="657" width="1" height="18"/>
<rect x="1155" y="656" width="1" height="19"/>
<rect x="1163" y="655" width="1" height="20"/>
<rect x="1171" y="652" width="1" height="23"/>
<rect x="1179" y="647" width="1" height="28"/>
<rect x="1187" y="644" width="1" height="31"/>
<rect x="1195" y="644" width="1" height="31"/>
<rect x="1203" y="645" width="1" height="30"/>
<rect x="1211" y="645" width="1" height="30"/>
<rect x="1219" y="645" width="1" height="30"/>
<rect x="1227" y="643" width="1" height="32"/>
<rect x="1235" y="648" width="1" height="27"/>
<rect x="1243" y="654" width="1" height="21"/>
<rect x="1251" y="663" width="1" height="12"/>
<rect x="1259" y="669" width="1" height="6"/>
<rect x="1267" y="671" width="1" height="4"/>
<rect x="1275" y="674" width="1" height="1"/>
<rect x="1283" y="674" width="1" height="6"/>
<rect x="1291" y="674" width="1" height="9"/>
<rect x="1299" y="674" width="1" height="11"/>
<rect x="1307" y="674" width="1" height="13"/>
<rect x="1315" y="674" width="1" height="16"/>
<rect x="1323" y="674" width="1" height="18"/>
<rect x="1331" y="674" width="1" height="18"/>
<rect x="1339" y="674" width="1" height="19"/>
<rect x="1347" y="674" width="1" height="21"/>
<rect x="1355" y="674" width="1" height="23"/>
<rect x="1363" y="674" width="1" height="21"/>
<rect x="1371" y="674" width="1" height="21"/>
<rect x="1379" y="674" width="1" height="30"/>
<rect x="1387" y="674" width="1" height="33"/>
<rect x="1395" y="674" width="1" height="32"/>
<rect x="1403" y="674" width="1" height="30"/>
</g>
<polyline points="0.0,723.8 12.6,725.1 25.1,728.6 37.7,730.6 52.7,731.3 62.8,733.6 80.3,734.3 100.4,733.1 118.0,731.8 130.5,727.3 143.1,721.8 155.6,716.8 170.7,709.2 185.7,701.7 200.8,691.7 213.4,682.9 225.9,671.6 238.5,659.0 251.0,646.5 263.6,633.9 276.1,623.9 288.7,615.1 301.2,609.3 308.7,607.6 326.3,607.6 338.9,609.3 351.4,612.6 366.5,617.6 381.5,621.9 396.6,625.2 410.0,628.2 427.6,628.4 445.2,629.4 457.7,632.7 472.8,637.2 487.9,643.5 500.4,650.8 513.0,658.5 525.5,665.3 538.1,672.1 550.6,677.9 560.6,681.1 570.7,681.1 580.7,679.1 590.8,676.6 600.8,672.3 613.4,667.8 625.9,664.1 635.9,662.3 643.5,663.3 653.5,666.6 666.1,673.6 678.6,683.6 691.2,695.4 703.7,708.0 713.8,715.5 723.8,723.1 733.8,725.6 746.4,726.3 756.4,723.8 769.0,716.8 781.5,708.0 794.1,697.9 806.6,687.9 815.1,681.6 827.6,673.6 835.1,670.3 850.2,658.5 862.7,652.8 877.8,646.5 892.9,641.5 907.9,636.0 923.0,632.2 935.5,629.7 948.1,624.7 958.1,622.7 973.2,621.4 988.3,620.1 1005.8,620.9 1025.9,623.9 1046.0,627.7 1061.0,632.7 1076.1,638.5 1091.2,643.2 1106.2,649.0 1123.8,653.3 1138.9,655.3 1156.4,656.5 1172.6,654.8 1187.7,652.3 1202.7,649.8 1220.3,647.0 1235.4,645.2 1247.9,646.0 1260.5,650.3 1275.5,656.5 1290.6,665.3 1303.1,672.9 1315.7,679.1 1330.8,684.9 1345.8,688.7 1360.9,691.7 1375.9,694.2 1391.0,697.4 1402.8,700.0" fill="none" stroke="#ff0000" stroke-width="1.1" stroke-dasharray="3 3"/>
<line x1="1293.6" y1="659.8" x2="1410.8" y2="709.0" stroke="#ff0000" stroke-width="3.3" stroke-linecap="butt"/><polygon points="1418.3,712.2 1404.6,711.3 1408.1,703.0" fill="#ff0000" stroke="#ff0000" stroke-width="1" stroke-linejoin="round"/>
<g shape-rendering="crispEdges" stroke="#c0c0c0" stroke-width="1" stroke-dasharray="3 3">
<line x1="0" y1="786.5" x2="1646" y2="786.5"/>
<line x1="0" y1="837.5" x2="1646" y2="837.5"/>
<line x1="0" y1="898.5" x2="1646" y2="898.5"/>
</g>
<polyline points="-4.5,870.5 3.5,872.6 11.5,871.1 19.5,867.0 27.5,863.2 35.5,851.3 43.5,843.4 51.5,861.8 59.5,872.2 67.5,867.6 75.5,866.4 83.5,861.8 91.5,852.4 99.5,842.4 107.5,847.2 115.5,843.4 123.5,838.4 131.5,843.0 139.5,853.4 147.5,856.6 155.5,843.0 163.5,833.0 171.5,831.1 179.5,832.6 187.5,830.1 195.5,814.2 203.5,815.5 211.5,814.4 219.5,811.3 227.5,806.5 235.5,802.3 243.5,796.5 251.5,801.3 259.5,801.3 267.5,798.2 275.5,802.3 283.5,799.2 291.5,818.4 299.5,813.4 307.5,813.4 315.5,816.5 323.5,814.2 331.5,821.5 339.5,817.4 347.5,814.2 355.5,815.3 363.5,816.3 371.5,817.4 379.5,810.7 387.5,816.3 395.5,814.2 403.5,806.9 411.5,803.0 419.5,801.3 427.5,806.1 435.5,808.2 443.5,840.9 451.5,836.7 459.5,838.4 467.5,839.5 475.5,837.8 483.5,842.0 491.5,853.0 499.5,848.6 507.5,855.1 515.5,850.7 523.5,854.0 531.5,854.0 539.5,862.4 547.5,844.7 555.5,821.5 563.5,823.6 571.5,817.4 579.5,811.3 587.5,813.2 595.5,836.7 603.5,832.6 611.5,837.2 619.5,831.1 627.5,835.1 635.5,850.9 643.5,854.9 651.5,859.1 659.5,868.0 667.5,872.2 675.5,875.3 683.5,868.6 691.5,878.4 699.5,872.6 707.5,857.0 715.5,853.4 723.5,852.4 731.5,847.2 739.5,844.7 747.5,833.6 755.5,832.2 763.5,832.2 771.5,834.7 779.5,828.4 787.5,823.6 795.5,822.1 803.5,817.4 811.5,817.4 819.5,816.3 827.5,812.3 835.5,806.9 843.5,803.4 851.5,811.3 859.5,811.3 867.5,818.4 875.5,813.8 883.5,803.8 891.5,800.3 899.5,799.2 907.5,799.2 915.5,799.2 923.5,794.6 931.5,790.2 939.5,795.5 947.5,794.4 955.5,798.6 963.5,796.1 971.5,801.3 979.5,797.5 987.5,795.0 995.5,801.3 1003.5,801.3 1011.5,801.3 1019.5,796.1 1027.5,799.6 1035.5,800.9 1043.5,823.2 1051.5,833.2 1059.5,829.4 1067.5,835.1 1075.5,829.4 1083.5,822.8 1091.5,827.4 1099.5,821.7 1107.5,820.5 1115.5,820.5 1123.5,812.8 1131.5,832.2 1139.5,821.7 1147.5,820.5 1155.5,815.9 1163.5,812.3 1171.5,807.6 1179.5,796.1 1187.5,801.3 1195.5,812.1 1203.5,817.4 1211.5,812.8 1219.5,811.3 1227.5,805.5 1235.5,836.1 1243.5,846.8 1251.5,858.2 1259.5,848.6 1267.5,843.4 1275.5,855.1 1283.5,851.3 1291.5,852.4 1299.5,852.4 1307.5,852.4 1315.5,857.6 1323.5,862.2 1331.5,844.7 1339.5,851.3 1347.5,857.2 1355.5,852.4 1363.5,845.5 1371.5,848.2 1379.5,873.2 1387.5,856.6 1395.5,849.3 1403.5,849.3" fill="none" stroke="#1e90ff" stroke-width="1"/>
<line x1="1321.7" y1="847.8" x2="1398.5" y2="856.8" stroke="#ff0000" stroke-width="3.3" stroke-linecap="butt"/><polygon points="1406.1,857.7 1393.7,860.6 1394.7,852.0" fill="#ff0000" stroke="#ff0000" stroke-width="1" stroke-linejoin="round"/>
<g font-size="9.35" fill="#000">
<rect x="1647" y="27" width="2" height="1" shape-rendering="crispEdges"/>
<text x="1652" y="30.0">36968.0</text>
<rect x="1647" y="59" width="2" height="1" shape-rendering="crispEdges"/>
<text x="1652" y="62.6">36786.5</text>
<rect x="1647" y="92" width="2" height="1" shape-rendering="crispEdges"/>
<text x="1652" y="95.4">36599.5</text>
<rect x="1647" y="125" width="2" height="1" shape-rendering="crispEdges"/>
<text x="1652" y="128.4">36418.0</text>
<rect x="1647" y="158" width="2" height="1" shape-rendering="crispEdges"/>
<text x="1652" y="161.2">36236.5</text>
<rect x="1647" y="191" width="2" height="1" shape-rendering="crispEdges"/>
<text x="1652" y="194.2">36055.0</text>
<rect x="1647" y="224" width="2" height="1" shape-rendering="crispEdges"/>
<text x="1652" y="227.3">35873.5</text>
<rect x="1647" y="257" width="2" height="1" shape-rendering="crispEdges"/>
<text x="1652" y="260.2">35692.0</text>
<rect x="1647" y="290" width="2" height="1" shape-rendering="crispEdges"/>
<text x="1652" y="293.2">35510.5</text>
<rect x="1647" y="323" width="2" height="1" shape-rendering="crispEdges"/>
<text x="1652" y="326.4">35329.0</text>
<rect x="1647" y="356" width="2" height="1" shape-rendering="crispEdges"/>
<text x="1652" y="359.5">35142.0</text>
<rect x="1647" y="389" width="2" height="1" shape-rendering="crispEdges"/>
<text x="1652" y="392.6">34960.5</text>
<rect x="1647" y="422" width="2" height="1" shape-rendering="crispEdges"/>
<text x="1652" y="425.6">34779.0</text>
<rect x="1647" y="455" width="2" height="1" shape-rendering="crispEdges"/>
<text x="1652" y="458.6">34597.5</text>
<rect x="1647" y="488" width="2" height="1" shape-rendering="crispEdges"/>
<text x="1652" y="491.6">34416.0</text>
<rect x="1647" y="521" width="2" height="1" shape-rendering="crispEdges"/>
<text x="1652" y="524.6">34234.5</text>
<rect x="1647" y="554" width="2" height="1" shape-rendering="crispEdges"/>
<text x="1652" y="557.5">34053.0</text>
<rect x="1647" y="587" width="2" height="1" shape-rendering="crispEdges"/>
<text x="1652" y="590.5">33871.5</text>
<text x="1650" y="602.5">321.42</text>
<text x="1650" y="677.1">0.00</text>
<text x="1650" y="744.3">-291.98</text>
<text x="1650" y="760.6">100</text>
<text x="1650" y="789.4">80</text>
<text x="1650" y="840.3">50</text>
<text x="1650" y="901.5">15</text>
<text x="1650" y="920.4">0</text>
<rect x="1647" y="594" width="1" height="1" shape-rendering="crispEdges"/>
<rect x="1647" y="674" width="1" height="1" shape-rendering="crispEdges"/>
<rect x="1647" y="747" width="1" height="1" shape-rendering="crispEdges"/>
<rect x="1647" y="752" width="1" height="1" shape-rendering="crispEdges"/>
<rect x="1647" y="786" width="1" height="1" shape-rendering="crispEdges"/>
<rect x="1647" y="837" width="1" height="1" shape-rendering="crispEdges"/>
<rect x="1647" y="898" width="1" height="1" shape-rendering="crispEdges"/>
<rect x="1647" y="917" width="1" height="1" shape-rendering="crispEdges"/>
<rect x="1648" y="133" width="41" height="11" fill="#ff0000" shape-rendering="crispEdges"/>
<text x="1652" y="141.9" fill="#fff">36341.1</text>
<rect x="1648" y="159" width="41" height="11" fill="#ff0000" shape-rendering="crispEdges"/>
<text x="1652" y="167.9" fill="#fff">36197.8</text>
<rect x="1648" y="188" width="41" height="11" fill="#32cd32" shape-rendering="crispEdges"/>
<text x="1652" y="196.9" fill="#fff">36037.9</text>
<rect x="1648" y="204" width="41" height="11" fill="#000000" shape-rendering="crispEdges"/>
<text x="1652" y="212.9" fill="#fff">35949.0</text>
<rect x="1648" y="234" width="41" height="11" fill="#0000ff" shape-rendering="crispEdges"/>
<text x="1652" y="242.9" fill="#fff">35784.3</text>
<rect x="1648" y="258" width="41" height="11" fill="#0000ff" shape-rendering="crispEdges"/>
<text x="1652" y="266.9" fill="#fff">35652.0</text>
<rect x="-13" y="925" width="1" height="3" shape-rendering="crispEdges"/>
<text x="-14" y="937">29 Nov 2021</text>
<rect x="51" y="925" width="1" height="3" shape-rendering="crispEdges"/>
<text x="50" y="937">1 Dec 16:00</text>
<rect x="115" y="925" width="1" height="3" shape-rendering="crispEdges"/>
<text x="114" y="937">3 Dec 00:00</text>
<rect x="179" y="925" width="1" height="3" shape-rendering="crispEdges"/>
<text x="178" y="937">6 Dec 04:00</text>
<rect x="243" y="925" width="1" height="3" shape-rendering="crispEdges"/>
<text x="242" y="937">7 Dec 12:00</text>
<rect x="307" y="925" width="1" height="3" shape-rendering="crispEdges"/>
<text x="306" y="937">8 Dec 20:00</text>
<rect x="371" y="925" width="1" height="3" shape-rendering="crispEdges"/>
<text x="370" y="937">10 Dec 04:00</text>
<rect x="435" y="925" width="1" height="3" shape-rendering="crispEdges"/>
<text x="434" y="937">13 Dec 08:00</text>
<rect x="499" y="925" width="1" height="3" shape-rendering="crispEdges"/>
<text x="498" y="937">14 Dec 16:00</text>
<rect x="563" y="925" width="1" height="3" shape-rendering="crispEdges"/>
<text x="562" y="937">16 Dec 00:00</text>
<rect x="627" y="925" width="1" height="3" shape-rendering="crispEdges"/>
<text x="626" y="937">17 Dec 08:00</text>
<rect x="691" y="925" width="1" height="3" shape-rendering="crispEdges"/>
<text x="690" y="937">20 Dec 12:00</text>
<rect x="755" y="925" width="1" height="3" shape-rendering="crispEdges"/>
<text x="754" y="937">21 Dec 20:00</text>
<rect x="819" y="925" width="1" height="3" shape-rendering="crispEdges"/>
<text x="818" y="937">23 Dec 04:00</text>
<rect x="883" y="925" width="1" height="3" shape-rendering="crispEdges"/>
<text x="882" y="937">27 Dec 12:00</text>
<rect x="947" y="925" width="1" height="3" shape-rendering="crispEdges"/>
<text x="946" y="937">28 Dec 20:00</text>
<rect x="1011" y="925" width="1" height="3" shape-rendering="crispEdges"/>
<text x="1010" y="937">30 Dec 04:00</text>
<rect x="1075" y="925" width="1" height="3" shape-rendering="crispEdges"/>
<text x="1074" y="937">31 Dec 12:00</text>
<rect x="1139" y="925" width="1" height="3" shape-rendering="crispEdges"/>
<text x="1138" y="937">3 Jan 16:00</text>
<rect x="1203" y="925" width="1" height="3" shape-rendering="crispEdges"/>
<text x="1202" y="937">5 Jan 00:00</text>
<rect x="1267" y="925" width="1" height="3" shape-rendering="crispEdges"/>
<text x="1266" y="937">6 Jan 08:00</text>
<rect x="1331" y="925" width="1" height="3" shape-rendering="crispEdges"/>
<text x="1330" y="937">7 Jan 16:00</text>
<rect x="1395" y="925" width="1" height="3" shape-rendering="crispEdges"/>
<text x="1394" y="937">10 Jan 20:00</text>
<text x="-7" y="605">MACD(12,26,9) -122.99 -101.63</text>
<text x="-8" y="763">RSI(14) 43.5733</text>
<text x="2.5" y="35">DJ30-,H4&#160;&#160;35942.0 35949.0 35942.0 35949.0</text>
</g>
</svg>
<div id="tp">
 <div class="b" style="left:0;top:0;width:42px;height:24px"><span style="left:2.500px;top:3.5px">SELL</span><i style="left:0;top:23px;width:38px"></i></div>
 <div class="b" style="left:158px;top:0;width:51px;height:24px"><span style="left:13px;top:3.5px;letter-spacing:-.6px">BUY</span><i style="left:4px;top:23px;width:44px"></i></div>
 <div class="vol"><div class="sb" style="left:1px"><em class="dn"></em></div><span class="v">1.00</span><div class="sb" style="right:1px"><em class="up"></em></div></div>
 <div class="p" style="left:0;width:99px"><span class="s" style="left:6.500px">35947</span><span class="g" style="left:44.500px">.5</span></div>
 <div class="p" style="left:101px;width:108px"><span class="s" style="left:15.500px">35956</span><span class="g" style="left:54.500px">.5</span></div>
</div>
</body></html>
